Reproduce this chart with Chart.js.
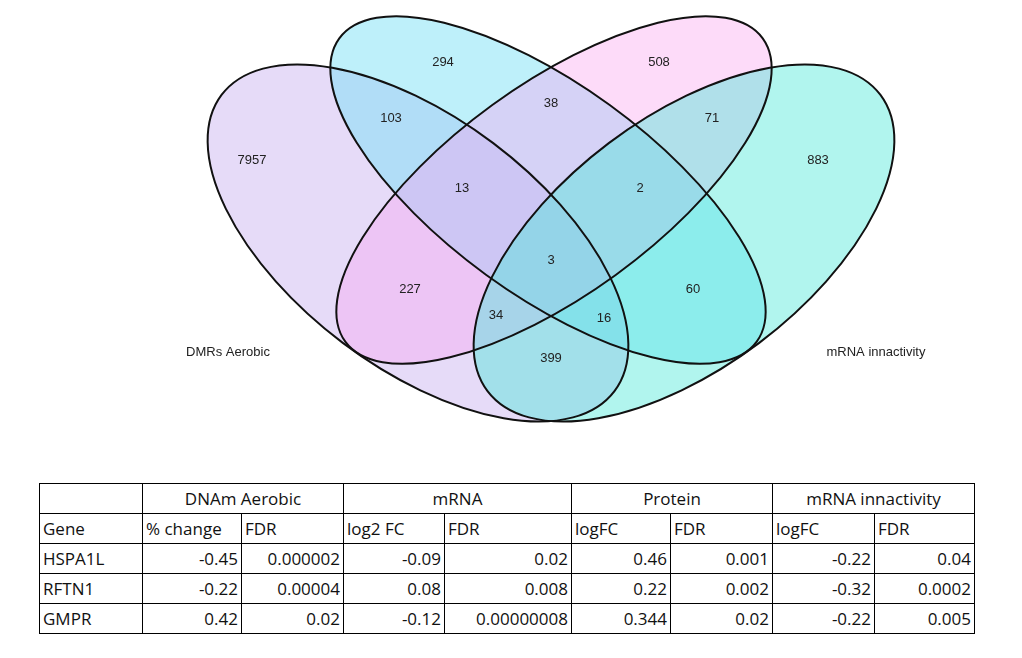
<!DOCTYPE html>
<html><head><meta charset="utf-8">
<script src="https://cdn.jsdelivr.net/npm/chart.js@4.4.1/dist/chart.umd.min.js"></script>
<style>
body{margin:0;background:#fff;width:1022px;height:658px;overflow:hidden;position:relative}
#wrap{position:absolute;left:0;top:0;width:1022px;height:440px}
table{position:absolute;left:39px;top:483px;border-collapse:collapse;font-family:"Open Sans",sans-serif;font-size:17px;color:#111}
td{border:1.5px solid #000;padding:0 3px;height:29px;white-space:nowrap}
.c{text-align:center}.r{text-align:right}
</style></head><body>
<div id="wrap"><canvas id="c"></canvas></div>
<table id="t"></table>
<script>
// Venn sets (center x, center y, semi-major, semi-minor, angle deg) in chart value space
const setNames=["DMRs Aerobic","mRNA","Protein","mRNA innactivity"];
const setCx=[418,548,554,684];
const setCy=[243,190,190,243];
const setRx=[246,258,258,246];
const setRy=[125,105,105,125];
const setAngle=[37,36,-36,-37];
const setFill=["rgba(196,170,238,0.42)","rgba(110,222,245,0.45)","rgba(250,160,240,0.38)","rgba(70,232,215,0.42)"];
// region counts and label positions
const counts=[7957,294,508,883,103,38,71,13,2,3,227,60,34,16,399];
const countX=[252,443,659,818,391,551,712,462,640,551,410,693,496,604,551];
const countY=[160,62,62,160,118,103,118,188,188,260,289,289,315,318,358];
const setLabelText=["DMRs Aerobic","mRNA innactivity"];
const setLabelX=[228,876];
const setLabelY=[352,352];
// table
const groups=["DNAm Aerobic","mRNA","Protein","mRNA innactivity"];
const subHeads=["Gene","% change","FDR","log2 FC","FDR","logFC","FDR","logFC","FDR"];
const genes=["HSPA1L","RFTN1","GMPR"];
const tableVals=[
 ["-0.45","0.000002","-0.09","0.02","0.46","0.001","-0.22","0.04"],
 ["-0.22","0.00004","0.08","0.008","0.22","0.002","-0.32","0.0002"],
 ["0.42","0.02","-0.12","0.00000008","0.344","0.02","-0.22","0.005"]];
const colW=[104,100,103,102,128,100,103,103,101];

const venn={id:'venn',beforeDatasetsDraw(ch){
  const {ctx,scales:{x,y}}=ch;
  for(let pass=0;pass<2;pass++){
   for(let i=0;i<4;i++){
    const cx=x.getPixelForValue(setCx[i]),cy=y.getPixelForValue(setCy[i]);
    const rx=x.getPixelForValue(setCx[i]+setRx[i])-cx;
    const ry=y.getPixelForValue(setCy[i]+setRy[i])-cy;
    ctx.save();ctx.beginPath();
    ctx.ellipse(cx,cy,Math.abs(rx),Math.abs(ry),setAngle[i]*Math.PI/180,0,2*Math.PI);
    if(pass==0){ctx.fillStyle=setFill[i];ctx.fill();}
    else{ctx.lineWidth=2;ctx.strokeStyle="#111";ctx.stroke();}
    ctx.restore();
   }
  }
 },afterDatasetsDraw(ch){
  const ctx=ch.ctx;
  ctx.save();ctx.font="13px 'Liberation Sans',Arial";ctx.fillStyle="#222";ctx.textAlign="center";ctx.textBaseline="middle";
  ch.getDatasetMeta(0).data.forEach((p,i)=>ctx.fillText(String(counts[i]),p.x,p.y));
  ch.getDatasetMeta(1).data.forEach((p,i)=>ctx.fillText(setLabelText[i],p.x,p.y));
  ctx.restore();
 }};

new Chart(document.getElementById('c'),{type:'scatter',
 data:{datasets:[
  {data:counts.map((v,i)=>({x:countX[i],y:countY[i]})),pointRadius:0},
  {data:setLabelText.map((v,i)=>({x:setLabelX[i],y:setLabelY[i]})),pointRadius:0}]},
 options:{responsive:true,maintainAspectRatio:false,animation:false,
  layout:{padding:0},
  plugins:{legend:{display:false},tooltip:{enabled:false}},
  scales:{x:{type:'linear',min:0,max:1022,display:false},y:{type:'linear',min:0,max:440,reverse:true,display:false}}},
 plugins:[venn]});

const t=document.getElementById('t');
let h='<tr><td style="width:'+(colW[0]-8)+'px"></td>';
groups.forEach((g,i)=>h+='<td class="c" colspan="2">'+g+'</td>');
h+='</tr><tr>';
subHeads.forEach((s,i)=>h+='<td style="width:'+(colW[i]-8)+'px">'+s+'</td>');
h+='</tr>';
genes.forEach((g,r)=>{h+='<tr><td>'+g+'</td>';tableVals[r].forEach(v=>h+='<td class="r">'+v+'</td>');h+='</tr>';});
t.innerHTML=h;
</script></body></html>
